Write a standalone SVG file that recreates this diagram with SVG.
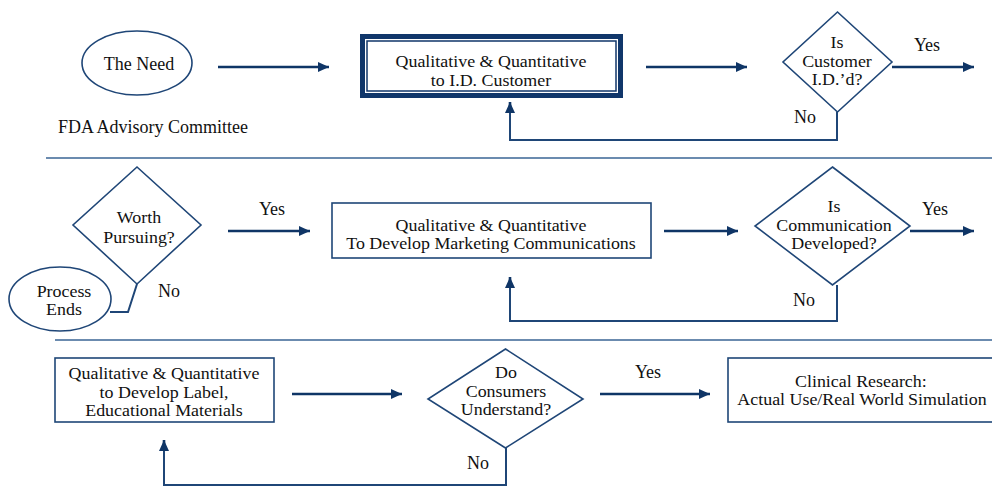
<svg xmlns="http://www.w3.org/2000/svg" width="992" height="499" viewBox="0 0 992 499">
<style>
text{font-family:"Liberation Serif","Times New Roman","DejaVu Serif",serif;font-size:18px;fill:#111;text-anchor:middle}
text.ml{font-size:16px}
.shape{fill:#fff;stroke:#1f4677;stroke-width:1.6}
.arrow{stroke:#0f3566;stroke-width:2.6;fill:none}
.loop{stroke:#1f4677;stroke-width:2;fill:none}
.sep{stroke:#3a6494;stroke-width:1.6}
</style>
<defs>
<marker id="ah" markerUnits="userSpaceOnUse" markerWidth="11" markerHeight="10" refX="11" refY="5" orient="auto">
<path d="M0,0 L11,5 L0,10 z" fill="#0f3566"/>
</marker>
</defs>
<g id="separators">
<line class="sep" x1="46" y1="158" x2="992" y2="158"/>
<line class="sep" x1="55" y1="340" x2="992" y2="340"/>
</g>
<g id="connectors">
<line class="arrow" x1="218" y1="67" x2="329" y2="67" marker-end="url(#ah)"/>
<line class="arrow" x1="646" y1="67" x2="747" y2="67" marker-end="url(#ah)"/>
<line class="arrow" x1="892" y1="67" x2="974" y2="67" marker-end="url(#ah)"/>
<polyline class="loop" points="837,112 837,140 510,140 510,108"/>
<line class="arrow" x1="510" y1="112" x2="510" y2="102" marker-end="url(#ah)"/>
<polyline class="loop" points="137,284 128,312 110,312"/>
<line class="arrow" x1="228" y1="231" x2="310" y2="231" marker-end="url(#ah)"/>
<line class="arrow" x1="664" y1="231" x2="738" y2="231" marker-end="url(#ah)"/>
<line class="arrow" x1="910" y1="231" x2="974" y2="231" marker-end="url(#ah)"/>
<polyline class="loop" points="837,285 837,321 510,321 510,282"/>
<line class="arrow" x1="510" y1="287" x2="510" y2="277" marker-end="url(#ah)"/>
<line class="arrow" x1="292" y1="394" x2="402" y2="394" marker-end="url(#ah)"/>
<line class="arrow" x1="600" y1="394" x2="710" y2="394" marker-end="url(#ah)"/>
<polyline class="loop" points="506,448 506,485 164,485 164,445"/>
<line class="arrow" x1="164" y1="450" x2="164" y2="440" marker-end="url(#ah)"/>
</g>
<g id="labels">
<text x="58" y="133" style="text-anchor:start">FDA Advisory Committee</text>
<text x="927" y="51">Yes</text>
<text x="805" y="123">No</text>
<text x="169" y="297">No</text>
<text x="272" y="215">Yes</text>
<text x="935" y="215">Yes</text>
<text x="804" y="306">No</text>
<text x="648" y="378">Yes</text>
<text x="478" y="469">No</text>
</g>
<g id="the-need">
<ellipse class="shape" cx="137" cy="63" rx="55" ry="32"/>
<text x="139" y="70">The Need</text>
</g>
<g id="id-customer">
<rect x="362.5" y="36.5" width="258" height="59" fill="#fff" stroke="#10366a" stroke-width="5"/>
<rect x="367" y="41" width="249" height="50" fill="none" stroke="#10366a" stroke-width="1.5"/>
<g transform="translate(491 0) scale(1.12 1) translate(-491 0)">
<text class="ml" x="491" y="67">Qualitative &amp; Quantitative<tspan x="491" dy="19">to I.D. Customer</tspan></text>
</g>
</g>
<g id="is-customer">
<polygon class="shape" points="837.5,12 892,62 837.5,112 783,62"/>
<g transform="translate(837 0) scale(1.12 1) translate(-837 0)">
<text class="ml" x="837" y="48">Is<tspan x="837" dy="19">Customer</tspan><tspan x="837" dy="18">I.D.’d?</tspan></text>
</g>
</g>
<g id="worth-pursuing">
<polygon class="shape" points="137,167 201,225 137,284 73,225"/>
<g transform="translate(139 0) scale(1.12 1) translate(-139 0)">
<text class="ml" x="139" y="223">Worth<tspan x="139" dy="20">Pursuing?</tspan></text>
</g>
</g>
<g id="process-ends">
<ellipse class="shape" cx="60" cy="299" rx="51" ry="32"/>
<g transform="translate(64 0) scale(1.12 1) translate(-64 0)">
<text class="ml" x="64" y="297">Process<tspan x="64" dy="18">Ends</tspan></text>
</g>
</g>
<g id="marketing">
<rect class="shape" x="332" y="203" width="319" height="55"/>
<g transform="translate(491 0) scale(1.12 1) translate(-491 0)">
<text class="ml" x="491" y="231">Qualitative &amp; Quantitative<tspan x="491" dy="18">To Develop Marketing Communications</tspan></text>
</g>
</g>
<g id="is-communication">
<polygon class="shape" points="832.5,167 910,226 832.5,285 755,226"/>
<g transform="translate(834 0) scale(1.12 1) translate(-834 0)">
<text class="ml" x="834" y="212">Is<tspan x="834" dy="19">Communication</tspan><tspan x="834" dy="18">Developed?</tspan></text>
</g>
</g>
<g id="label-materials">
<rect class="shape" x="55" y="358" width="219" height="64"/>
<g transform="translate(164 0) scale(1.12 1) translate(-164 0)">
<text class="ml" x="164" y="379">Qualitative &amp; Quantitative<tspan x="164" dy="19">to Develop Label,</tspan><tspan x="164" dy="18">Educational Materials</tspan></text>
</g>
</g>
<g id="consumers-understand">
<polygon class="shape" points="505.5,349 583,399 505.5,448 428,399"/>
<g transform="translate(506 0) scale(1.12 1) translate(-506 0)">
<text class="ml" x="506" y="378">Do<tspan x="506" dy="19">Consumers</tspan><tspan x="506" dy="18">Understand?</tspan></text>
</g>
</g>
<g id="clinical-research">
<rect class="shape" x="728" y="358" width="280" height="64"/>
<g transform="translate(862 0) scale(1.12 1) translate(-862 0)">
<text class="ml" x="861" y="387">Clinical Research:<tspan x="862" dy="18">Actual Use/Real World Simulation</tspan></text>
</g>
</g>
</svg>
